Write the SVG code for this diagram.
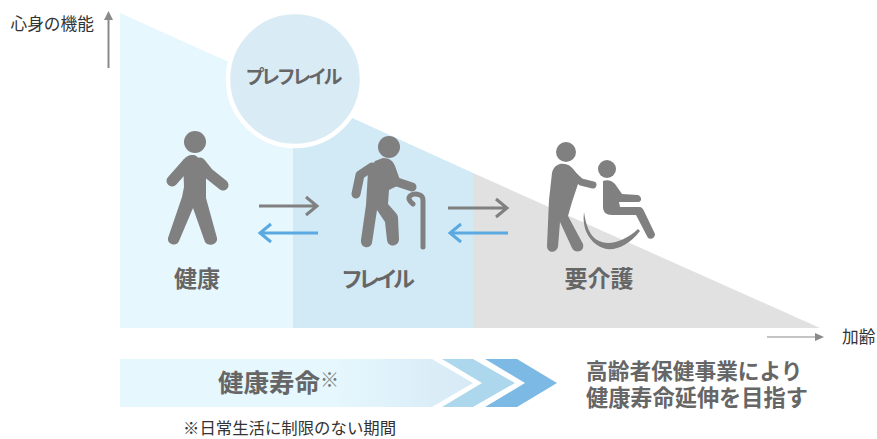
<svg xmlns="http://www.w3.org/2000/svg" width="877" height="439" viewBox="0 0 877 439">
<style>
text{font-family:"Noto Sans CJK JP","Noto Sans",sans-serif;}
.l{font-size:16.700px;fill:#333;}
.b{font-weight:700;fill:#666;}
.fig{fill:#808080;}
.st{fill:none;stroke:#808080;stroke-linecap:round;stroke-linejoin:round;}
.g{fill:none;stroke:#808080;stroke-width:3;}
.bl{fill:none;stroke:#5aa9e0;stroke-width:3;}
</style>
<defs>
<linearGradient id="bar" x1="120" x2="473" y1="0" y2="0" gradientUnits="userSpaceOnUse">
<stop offset="0.6" stop-color="#e6f7fd"/><stop offset="1" stop-color="#d6e9f5"/>
</linearGradient>
</defs>
<g id="zones">
<polygon points="120,13 293,91 293,328 120,328" fill="#e6f7fd"/>
<polygon points="293,91 473,173 473,328 293,328" fill="#d2e9f6"/>
<polygon points="473,173 820,328 473,328" fill="#e1e1e1"/>
</g>
<g id="axes">
<path d="M108.500 68V19" stroke="#8a8a8a" stroke-width="2" fill="none"/>
<polygon points="108.500,11 113,20 104,20" fill="#8a8a8a"/>
<path d="M767 337H816" stroke="#8a8a8a" stroke-width="1.200" fill="none"/>
<polygon points="824,337 815,333 815,341" fill="#8a8a8a"/>
<text class="l" x="10.500" y="30">心身の機能</text>
<text class="l" x="842" y="343">加齢</text>
</g>
<g id="prefrail">
<circle cx="295" cy="79" r="67" fill="#d9ecf6" stroke="#fff" stroke-width="4.500"/>
<text class="b" x="245.500" y="84" font-size="19" textLength="97">プレフレイル</text>
</g>
<g id="healthy">
<circle class="fig" cx="195" cy="142" r="11"/>
<path class="fig" d="M193 155C188 155 186 157 183 160L184 187L182 197L168 238C167 245 177 247 179 241L193 208L205 242C208 247 218 245 217 238L206 198V170L200 160C198 157 196 155 193 155Z"/>
<path class="st" stroke-width="11" d="M172 181L187 164M200 163L208 173L223 185"/>
<text class="b" x="197" y="287" font-size="23" text-anchor="middle">健康</text>
</g>
<g id="frail">
<circle class="fig" cx="389" cy="147" r="11"/>
<path class="fig" d="M383 158C390 158 393 161 395 166L400 180L397 186L389 190L388 204L395 212C397 214 398 216 398 218L399 239C399 247 388 248 387 240L385 222L377 210L372 243C370 250 360 248 361 240L366 205L368 172L375 161Z"/>
<path class="st" stroke-width="9" d="M356 194L360 175L372 167M397 182L412 187"/>
<path class="st" stroke-width="5" d="M413 204C409 201 408 198 410 196C413 193 417 194 420 195C422 196 423 198 423 200V247"/>
<text class="b" x="341" y="287" font-size="22" textLength="74">フレイル</text>
</g>
<g id="care">
<circle class="fig" cx="566" cy="152" r="10"/>
<path class="fig" d="M560 164C566 163 570 165 574 170L580 178L572 202L568 216L583 244C585 252 575 254 572 248L560 222L558 247C556 254 547 253 547 246L549 200L552 173C553 168 556 165 560 164Z"/>
<path class="st" stroke-width="7" d="M570 172L581 182L593 185"/>
<circle class="fig" cx="607" cy="169" r="9"/>
<path class="fig" d="M603 181C608 179 612 181 615 184L622 194L638 195C642 197 642 201 639 202L619 202L620 207L639 207C642 207 643 209 644 211L655 234C655 238 651 240 648 238L636 215L612 215C606 215 603 212 603 207Z"/>
<path class="fig" d="M584 212C582 226 587 238 597 245C608 253 625 250 640 231L638 229C625 241 610 246 599 241C590 237 586 226 584 212Z"/>
<text class="b" x="599" y="287" font-size="23" text-anchor="middle">要介護</text>
</g>
<g id="connectors">
<path class="g" d="M259 206H317M306 197L317 206L306 215"/>
<path class="bl" d="M318 233H260M271 224L260 233L271 242"/>
<path class="g" d="M448 208H507M496 199L507 208L496 217"/>
<path class="bl" d="M508 233H450M461 224L450 233L461 242"/>
</g>
<g id="lifespan">
<polygon points="120,359 432,359 473,383 432,407 120,407" fill="url(#bar)"/>
<polygon points="442,359 473,359 515,383 473,407 442,407 482,383" fill="#acd7ec"/>
<polygon points="485,359 517,359 557,383 517,407 485,407 525,383" fill="#7cb9e5"/>
<text class="b" x="218" y="392" font-size="25.500">健康寿命</text>
<text x="320" y="387" font-size="19" fill="#777">※</text>
<text class="l" x="183" y="434" style="font-size:16.400px">※日常生活に制限のない期間</text>
</g>
<g id="goal">
<text class="b"><tspan x="586" y="379" font-size="21.700">高齢者保健事業により</tspan><tspan x="586" y="406" font-size="22.200">健康寿命延伸を目指す</tspan></text>
</g>
</svg>
